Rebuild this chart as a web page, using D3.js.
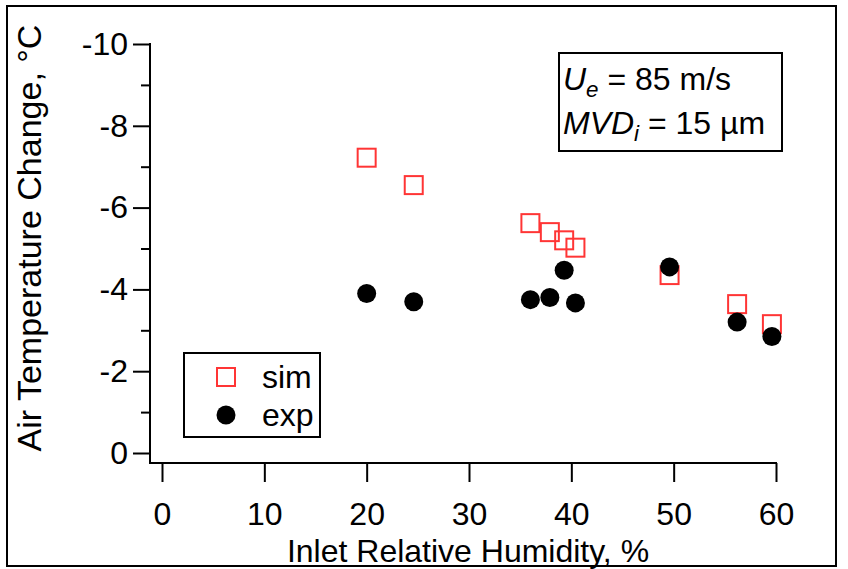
<!DOCTYPE html>
<html><head><meta charset="utf-8">
<script src="https://cdn.jsdelivr.net/npm/d3@7"></script>
<style>body{margin:0;background:#fff}svg text{font-family:"Liberation Sans",Arial,sans-serif;}</style>
</head><body>
<svg id="c" width="848" height="569"></svg>
<script>
const humidity = [20.0, 24.6, 36.0, 37.9, 39.3, 40.4, 49.6, 56.2, 59.6];
const simValues = [-7.22, -6.55, -5.62, -5.40, -5.20, -5.02, -4.35, -3.64, -3.15];
const expValues = [-3.90, -3.70, -3.75, -3.80, -4.47, -3.67, -4.55, -3.20, -2.85];
const xTicks = [0, 10, 20, 30, 40, 50, 60];
const yTicks = [0, -2, -4, -6, -8, -10];
const yMinor = [-1, -3, -5, -7, -9];
const legendLabels = ["sim", "exp"];

const svg = d3.select("#c");
const FS = 32;
const x = d3.scaleLinear().domain([0, 60]).range([162, 776]);
const y = d3.scaleLinear().domain([0, -10]).range([453, 44]);
const axisX = 150, axisY = 463;

// outer frame
svg.append("rect").attr("x", 7).attr("y", 6).attr("width", 829).attr("height", 560)
  .attr("fill", "none").attr("stroke", "#000").attr("stroke-width", 2);

// Y axis
const gy = svg.append("g").attr("transform", `translate(${axisX},0)`)
  .call(d3.axisLeft(y).tickValues(yTicks).tickSize(17).tickSizeOuter(0).tickPadding(5).tickFormat(d => String(d)));
gy.select(".domain").remove();
gy.selectAll(".tick line").attr("stroke", "#000").attr("stroke-width", 2);
gy.selectAll(".tick text").attr("font-size", FS).attr("fill", "#000").attr("font-family", "Liberation Sans, Arial, sans-serif");
const gym = svg.append("g").attr("transform", `translate(${axisX},0)`)
  .call(d3.axisLeft(y).tickValues(yMinor).tickSize(9).tickFormat(""));
gym.select(".domain").remove();
gym.selectAll(".tick line").attr("stroke", "#000").attr("stroke-width", 2);
svg.append("line").attr("x1", axisX).attr("x2", axisX).attr("y1", y(-10) - 1).attr("y2", axisY)
  .attr("stroke", "#000").attr("stroke-width", 2);

// X axis
const gx = svg.append("g").attr("transform", `translate(0,${axisY})`)
  .call(d3.axisBottom(x).tickValues(xTicks).tickSize(19).tickSizeOuter(0).tickPadding(20).tickFormat(d => String(d)));
gx.select(".domain").remove();
gx.selectAll(".tick line").attr("stroke", "#000").attr("stroke-width", 2);
gx.selectAll(".tick text").attr("font-size", FS).attr("fill", "#000").attr("font-family", "Liberation Sans, Arial, sans-serif");
svg.append("line").attr("x1", axisX - 1).attr("x2", x(60) + 1).attr("y1", axisY).attr("y2", axisY)
  .attr("stroke", "#000").attr("stroke-width", 2);

// titles
svg.append("text").attr("x", 468).attr("y", 562).attr("text-anchor", "middle")
  .attr("font-size", FS).text("Inlet Relative Humidity, %");
svg.append("text").attr("transform", "translate(41,238) rotate(-90)").attr("text-anchor", "middle")
  .attr("font-size", 34).text("Air Temperature Change, °C");

// data
const SQ = 18;
svg.append("g").selectAll("rect").data(humidity).join("rect")
  .attr("x", (d, i) => x(d) - SQ / 2).attr("y", (d, i) => y(simValues[i]) - SQ / 2)
  .attr("width", SQ).attr("height", SQ).attr("fill", "none")
  .attr("stroke", "#ff3535").attr("stroke-width", 2);
svg.append("g").selectAll("circle").data(humidity).join("circle")
  .attr("cx", d => x(d)).attr("cy", (d, i) => y(expValues[i])).attr("r", 9.5).attr("fill", "#000");

// annotation box
svg.append("rect").attr("x", 559).attr("y", 53).attr("width", 223).attr("height", 98)
  .attr("fill", "#fff").attr("stroke", "#000").attr("stroke-width", 2);
const t1 = svg.append("text").attr("x", 563).attr("y", 90).attr("font-size", FS);
t1.append("tspan").attr("font-style", "italic").text("U");
t1.append("tspan").attr("font-style", "italic").attr("font-size", FS * 0.7).attr("dy", 7).text("e");
t1.append("tspan").attr("dy", -7).text(" = 85 m/s");
const t2 = svg.append("text").attr("x", 563).attr("y", 134).attr("font-size", FS);
t2.append("tspan").attr("font-style", "italic").text("MVD");
t2.append("tspan").attr("font-style", "italic").attr("font-size", FS * 0.7).attr("dy", 7).text("i");
t2.append("tspan").attr("dy", -7).text(" = 15 µm");

// legend
svg.append("rect").attr("x", 184).attr("y", 353).attr("width", 136).attr("height", 84)
  .attr("fill", "#fff").attr("stroke", "#000").attr("stroke-width", 2);
const lg = svg.append("g");
lg.append("rect").attr("x", 226 - 9).attr("y", 377 - 9).attr("width", 18).attr("height", 18)
  .attr("fill", "none").attr("stroke", "#ff3535").attr("stroke-width", 2);
lg.append("circle").attr("cx", 226).attr("cy", 415).attr("r", 9.5).attr("fill", "#000");
lg.selectAll("text").data(legendLabels).join("text")
  .attr("x", 262).attr("y", (d, i) => 388 + i * 38).attr("font-size", FS).text(d => d);
</script>
</body></html>
